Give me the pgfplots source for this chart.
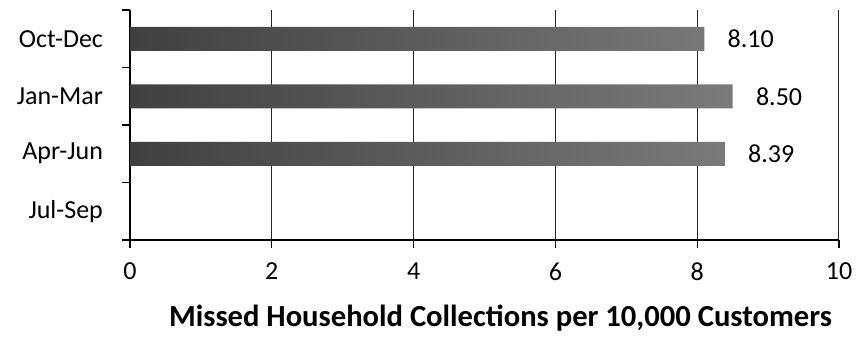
\documentclass[border=0pt]{standalone}
\usepackage{fontspec}
\setmainfont{Carlito}
\usepackage{pgfplots}
\pgfplotsset{compat=1.18}
\begin{document}
\fontsize{13}{15.6}\selectfont
\begin{tikzpicture}
\path[use as bounding box] (-65pt,-48.5pt) rectangle (364.5pt,120pt);
\begin{axis}[
  at={(0pt,0pt)}, anchor=south west,
  scale only axis, width=354.5pt, height=115pt,
  xmin=0, xmax=10, ymin=-0.5, ymax=3.5,
  xtick={0,2,...,10},
  ytick={-0.5,0.5,1.5,2.5,3.5},
  yticklabels={},
  extra y ticks={0,1,2,3},
  extra y tick labels={Jul-Sep,Apr-Jun,Jan-Mar,Oct-Dec},
  extra y tick style={major tick length=0pt, yticklabel style={xshift=-9pt}},
  axis x line*=bottom, axis y line*=left,
  axis line style={-, line width=0.8pt, black},
  tick align=outside, major tick length=4pt,
  tick style={black, line width=0.6pt},
  xmajorgrids, major grid style={black!85, line width=0.5pt},
  xticklabel style={yshift=-3pt},
  /pgf/number format/assume math mode=true,
  font=\fontsize{13}{15.6}\selectfont,
  xlabel={\bfseries Missed Household Collections per 10,000 Customers},
  xlabel style={font=\fontsize{15.3}{18}\selectfont, yshift=-3pt, xshift=8pt},
  xbar, bar width=12pt,
  point meta=x,
  nodes near coords,
  nodes near coords style={anchor=west, inner sep=0pt, xshift=11.5pt,
    /pgf/number format/.cd, fixed, fixed zerofill, precision=2, assume math mode=true},
]
\addplot[draw=none, shade, left color=black!75, right color=black!52]
  coordinates {(8.39,1) (8.50,2) (8.10,3)};
\end{axis}
\end{tikzpicture}
\end{document}
